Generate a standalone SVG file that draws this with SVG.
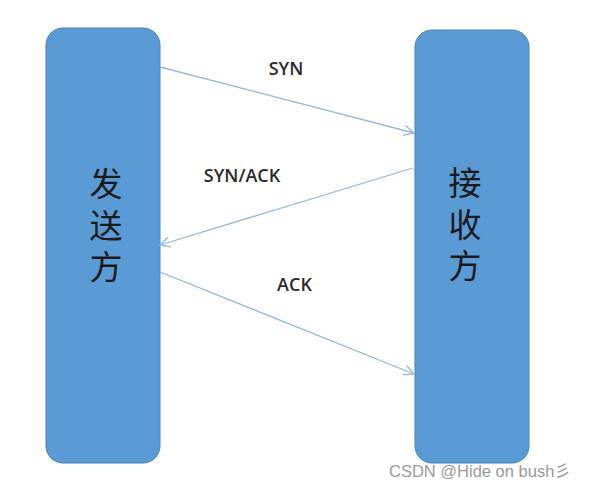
<svg xmlns="http://www.w3.org/2000/svg" width="612" height="495" viewBox="0 0 612 495">
<defs>
<style>
.box{fill:#5b9bd5;stroke:#4a82b8;stroke-width:1}
.cn{font-family:"Noto Sans CJK SC",sans-serif;font-size:33px;fill:#1a1a1a;text-anchor:middle}
.lbl{font-family:"Open Sans","Liberation Sans",sans-serif;font-size:18px;font-weight:600;fill:#2a2a2a;text-anchor:middle}
.ln{stroke:#92b7dc;stroke-width:1.3;fill:none}
</style>
<marker id="ah" viewBox="0 0 12 12" refX="11" refY="6" markerWidth="12" markerHeight="12" markerUnits="userSpaceOnUse" orient="auto">
<path d="M1,1 L11,6 L1,11" fill="none" stroke="#92b7dc" stroke-width="1.3"/>
</marker>
</defs>
<rect width="612" height="495" fill="#ffffff"/>
<g id="sender">
<rect class="box" x="46" y="28" width="114" height="435" rx="17"/>
<text class="cn" x="106" y="196">发</text>
<text class="cn" x="106" y="238">送</text>
<text class="cn" x="106" y="279">方</text>
</g>
<g id="receiver">
<rect class="box" x="415" y="30" width="114" height="433" rx="17"/>
<text class="cn" x="465" y="195">接</text>
<text class="cn" x="465" y="237">收</text>
<text class="cn" x="465" y="278">方</text>
</g>
<g id="connectors">
<line class="ln" x1="160" y1="67" x2="414" y2="133" marker-end="url(#ah)"/>
<line class="ln" x1="413" y1="168" x2="160" y2="245" marker-end="url(#ah)"/>
<line class="ln" x1="160" y1="272" x2="414" y2="374" marker-end="url(#ah)"/>
<text class="lbl" x="286" y="75">SYN</text>
<text class="lbl" x="242" y="182">SYN/ACK</text>
<text class="lbl" x="294.5" y="291">ACK</text>
</g>
<text x="389" y="477" font-family="Liberation Sans, sans-serif" font-size="16.5" fill="#9a9a9a">CSDN @Hide on bush<tspan font-family="Noto Sans CJK SC, sans-serif">彡</tspan></text>
</svg>
